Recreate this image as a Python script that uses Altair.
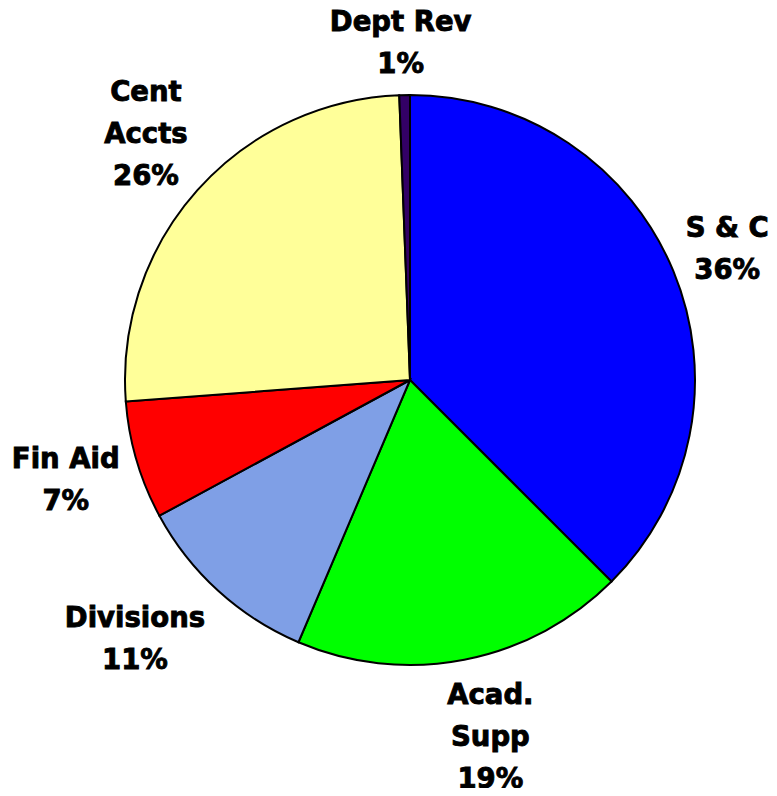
import altair as alt
import pandas as pd

categories = ["S & C", "Acad. Supp", "Divisions", "Fin Aid", "Cent Accts", "Dept Rev"]
values = [37.5, 18.9, 10.7, 6.7, 25.6, 0.6]
label_lines = [["S & C", "36%"], ["Acad.", "Supp", "19%"], ["Divisions", "11%"],
               ["Fin Aid", "7%"], ["Cent", "Accts", "26%"], ["Dept Rev", "1%"]]
colors = ["#0000FF", "#00FF00", "#7F9FE6", "#FF0000", "#FFFF99", "#330066"]

W, H = 690, 700
PAD_L, PAD_R, PAD_T, PAD_B = 57, 14, 22, 58
R = 285
LH = 42
GAP = 14

df = pd.DataFrame({
    "category": categories,
    "value": values,
    "order": list(range(len(categories))),
    "label": ["\n".join(l) for l in label_lines],
    "nlines": [len(l) for l in label_lines],
    "maxchars": [max(len(s) for s in l) for l in label_lines],
})

pie = alt.Chart(df).mark_arc(outerRadius=R, stroke="black", strokeWidth=2).encode(
    theta=alt.Theta("value:Q", stack=True),
    order=alt.Order("order:Q"),
    color=alt.Color("category:N", scale=alt.Scale(domain=categories, range=colors), legend=None),
)

labels = (
    alt.Chart(df)
    .transform_joinaggregate(total="sum(value)")
    .transform_window(cum="sum(value)", sort=[alt.SortField("order")], frame=[None, 0])
    .transform_calculate(mid="2*PI*(datum.cum - datum.value/2)/datum.total")
    .transform_calculate(ux="sin(datum.mid)", uy="-cos(datum.mid)")
    .transform_calculate(
        hw="datum.maxchars*8.2",
        hh=f"((datum.nlines-1)*{LH} + 38)/2",
    )
    .transform_calculate(
        lx=f"clamp({W/2} + {R + GAP}*datum.ux + clamp(3*datum.ux, -1, 1)*datum.hw, "
           f"datum.hw - {PAD_L}, {W + PAD_R} - datum.hw)",
        ly=f"3 + {H/2} + {R + GAP}*datum.uy + clamp(1.2*datum.uy, -1, 1)*datum.hh "
           f"- (datum.nlines-1)*{LH}/2",
    )
    .mark_text(
        font="DejaVu Sans", fontWeight="bold", fontSize=27.5,
        lineBreak="\n", lineHeight=LH, align="center", baseline="middle",
        color="black", stroke="black", strokeWidth=0.9,
    )
    .encode(
        x=alt.X("lx:Q", scale=None),
        y=alt.Y("ly:Q", scale=None),
        text="label:N",
    )
)

chart = (pie + labels).properties(
    width=W, height=H,
    padding={"left": PAD_L, "top": PAD_T, "right": PAD_R, "bottom": PAD_B},
    autosize=alt.AutoSizeParams(type="none"),
).configure_view(stroke=None)

chart.save("out.html", embed_options={"renderer": "svg", "actions": False})
